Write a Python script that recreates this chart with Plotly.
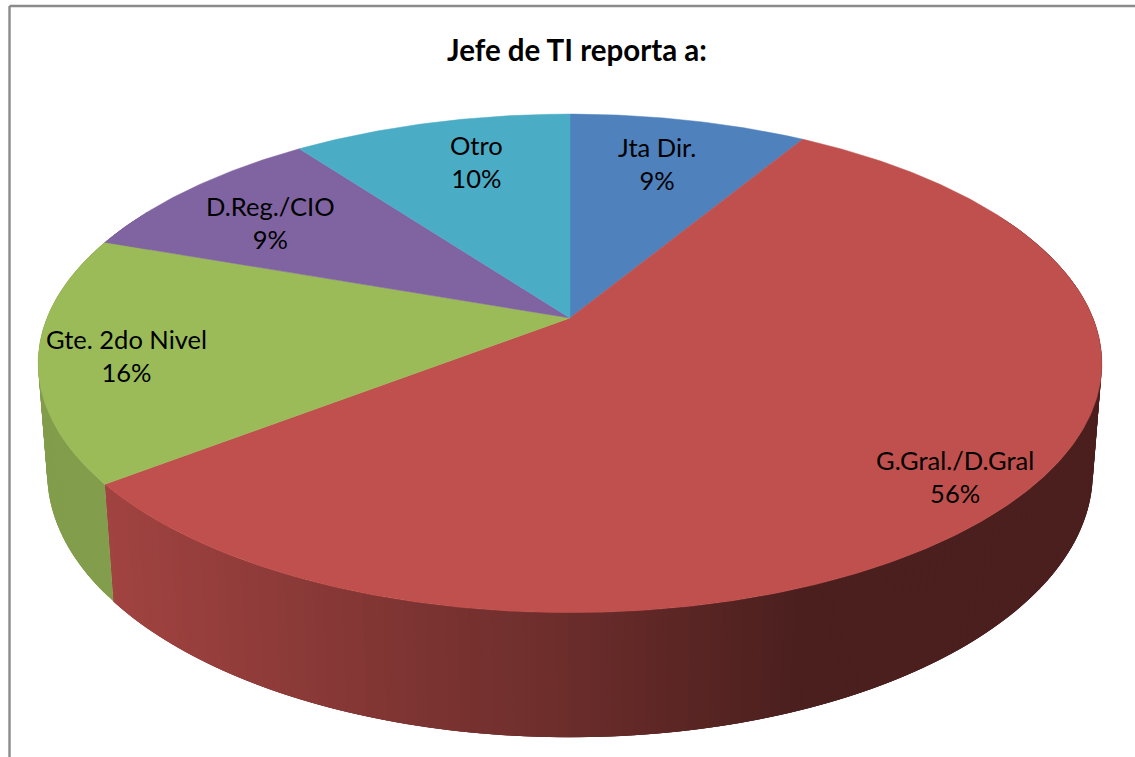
import numpy as np
import plotly.graph_objects as go

# ---- data ----
categories = ["Jta Dir.", "G.Gral./D.Gral", "Gte. 2do Nivel", "D.Reg./CIO", "Otro"]
values = [8.6, 55.9, 15.9, 9.49, 10.11]
percent_labels = ["9%", "56%", "16%", "9%", "10%"]
title_text = "Jefe de TI reporta a:"

# ---- styling ----
top_colors = ["#4F81BD", "#C0504D", "#9BBB59", "#8064A2", "#4BACC6"]
side_stops_x = [105, 300, 550, 800, 1135]
side_stops_f = [0.84, 0.72, 0.57, 0.39, 0.39]
label_xy = [(657, 163.5), (955, 476), (126, 355), (270, 222), (476, 161.5)]

W, H = 1135, 757
CX, CY = 570.0, 318.0      # where the slices meet on the top face
A, B = 523.0, 241.0        # disc scale
K = 0.182                  # perspective strength
DEPTH, SHRINK = 109.0, 0.0167  # thickness of the disc


def project(theta, lower=False):
    """Clockwise angle from 12 o'clock on the disc -> picture coordinates."""
    u, v = np.sin(theta), np.cos(theta)
    w = 1 + K * v + (SHRINK if lower else 0)
    return CX + A * u / w, CY + (-B * v + (DEPTH if lower else 0)) / w


def rgb(hex_color):
    return [int(hex_color[i:i + 2], 16) for i in (1, 3, 5)]


edges = 2 * np.pi * np.concatenate([[0], np.cumsum(values)]) / sum(values)
fig = go.Figure()

# Sides: thin strips, shaded by horizontal position. Each strip runs a little
# past its end and the next one paints over it, so no seams show.
for i, color in enumerate(top_colors):
    base = rgb(color)
    n = max(2, int(np.degrees(edges[i + 1] - edges[i])))
    ang = np.linspace(edges[i], edges[i + 1], n + 1)
    step = ang[1] - ang[0]
    for a0, a1 in zip(ang[:-1], ang[1:]):
        if np.cos((a0 + a1) / 2) > 0.45:
            continue  # hidden behind the top face
        over = np.linspace(a0, min(a1 + 2 * step, edges[i + 1]), 4)
        xt, yt = project(over)
        xb, yb = project(over[::-1], True)
        mid_x = project((a0 + a1) / 2)[0]
        f = np.interp(mid_x, side_stops_x, side_stops_f) if i == 1 else 0.84
        c = "rgb(%d,%d,%d)" % tuple(round(b * f) for b in base)
        fig.add_trace(go.Scatter(x=np.r_[xt, xb, xt[0]], y=np.r_[yt, yb, yt[0]],
                                 mode="lines", fill="toself", fillcolor=c,
                                 line=dict(color=c, width=0), hoverinfo="skip",
                                 showlegend=False))

# Top face
for i, color in enumerate(top_colors):
    n = max(8, int(np.degrees(edges[i + 1] - edges[i]) * 2))
    ang = np.linspace(edges[i], edges[i + 1], n + 1)
    xs, ys = project(ang)
    fig.add_trace(go.Scatter(x=np.r_[CX, xs, CX], y=np.r_[CY, ys, CY],
                             mode="lines", fill="toself", fillcolor=color,
                             line=dict(color=color, width=0.5),
                             name=categories[i], showlegend=False,
                             hovertemplate=f"{categories[i]}: {percent_labels[i]}<extra></extra>"))

annotations = [dict(x=x, y=y, text=f"{c}<br>{p}", showarrow=False, xanchor="center", yanchor="middle",
                    font=dict(family="Lato", size=25.5, color="#000000"))
               for c, p, (x, y) in zip(categories, percent_labels, label_xy)]
annotations.append(dict(x=577, y=49, text=f"<b>{title_text}</b>", showarrow=False,
                        xanchor="center", yanchor="middle",
                        font=dict(family="Lato", size=29.5, color="#000000")))

frame = dict(color="#8a8a8a", width=2.4)
shapes = [dict(type="line", x0=9.5, x1=9.5, y0=6, y1=H, line=frame, layer="below"),
          dict(type="line", x0=9.5, x1=W, y0=6, y1=6, line=frame, layer="below")]

fig.update_layout(width=W, height=H, margin=dict(l=0, r=0, t=0, b=0),
                  paper_bgcolor="white", plot_bgcolor="white",
                  xaxis=dict(range=[0, W], visible=False, fixedrange=True),
                  yaxis=dict(range=[H, 0], visible=False, fixedrange=True),
                  annotations=annotations, shapes=shapes)

fig.write_html("out.html", config={"displayModeBar": False},
               post_script="document.body.style.margin='0';document.documentElement.style.overflow='hidden';")
